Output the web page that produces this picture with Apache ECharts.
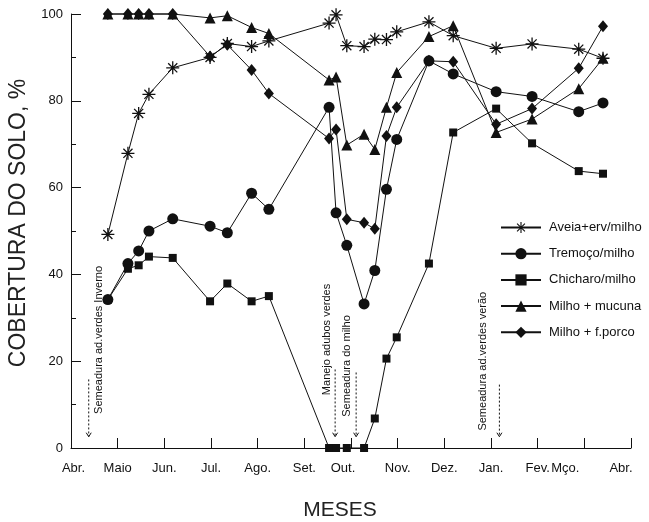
<!DOCTYPE html>
<html>
<head>
<meta charset="utf-8">
<script src="https://cdn.jsdelivr.net/npm/echarts@6/dist/echarts.min.js"></script>
<style>
  html, body { margin: 0; padding: 0; background: #fff; }
  #chart { width: 649px; height: 522px; }
</style>
</head>
<body>
<div id="chart"></div>
<script>
// Datas de avaliação, em meses contados a partir de abril (0 = Abr., 12 = Abr. seguinte)
const meses = [0.79, 1.22, 1.45, 1.67, 2.18, 2.98, 3.35, 3.87, 4.24, 5.53, 5.68,
               5.91, 6.28, 6.51, 6.76, 6.98, 7.67, 8.19, 9.11, 9.88, 10.88, 11.40];

const rotulosMeses = ['Abr.', 'Maio', 'Jun.', 'Jul.', 'Ago.', 'Set.', 'Out.',
                      'Nov.', 'Dez.', 'Jan.', 'Fev.', 'Mço.', 'Abr.'];

const rotulosY = [0, 20, 40, 60, 80, 100];

// Cobertura do solo (%) de cada sistema
const aveia = [49.2, 67.9, 77.1, 81.5, 87.6, 90.0, 93.2, 92.5, 93.8, 97.9, 99.8,
               92.7, 92.5, 94.2, 94.1, 95.9, 98.2, 95.0, 92.1, 93.1, 91.9, 89.8];
const tremoco = [34.2, 42.5, 45.4, 50.0, 52.8, 51.1, 49.6, 58.7, 55.0, 78.5, 54.2,
                 46.7, 33.2, 40.9, 59.6, 71.1, 89.2, 86.2, 82.1, 81.0, 77.5, 79.5];
const chicharo = [34.2, 41.3, 42.1, 44.1, 43.8, 33.8, 37.9, 33.8, 35.0, 0, 0,
                  0, 0, 6.8, 20.6, 25.5, 42.5, 72.7, 78.2, 70.2, 63.8, 63.2];
const mucuna = [100, 100, 100, 100, 100, 99.1, 99.6, 96.9, 95.5, 84.8, 85.5,
                69.8, 72.3, 68.8, 78.5, 86.5, 94.8, 97.3, 72.7, 75.8, 82.8, 89.8];
const porco = [100, 100, 100, 100, 100, 90.2, 92.9, 87.1, 81.7, 71.3, 73.4,
               52.7, 51.9, 50.5, 71.9, 78.5, 89.2, 89.0, 74.6, 78.2, 87.5, 97.2];

const nomes = ['Aveia+erv/milho', 'Tremoço/milho', 'Chicharo/milho', 'Milho + mucuna', 'Milho + f.porco'];

// Anotações de manejo (texto vertical + seta tracejada), em coordenadas do gráfico
const anotacoes = [
  { texto: 'Semeadura ad.verdes Inverno', textoEm: [0.59, 24.9], seta: 0.38, topo: 15.8 },
  { texto: 'Manejo adubos verdes',        textoEm: [5.48, 25.0], seta: 5.66, topo: 18.1 },
  { texto: 'Semeadura do milho',          textoEm: [5.92, 18.9], seta: 6.11, topo: 17.4 },
  { texto: 'Semeadura ad.verdes verão',   textoEm: [8.82, 20.0], seta: 9.18, topo: 14.6 }
];
const pontaSeta = 2.6;

const FONTE = '"Liberation Sans", Arial, Helvetica, sans-serif';

// asterisco de quatro hastes
const ASTERISCO = 'path://M9 0L11 0L11 20L9 20Z M0 9L20 9L20 11L0 11Z ' +
  'M2.3 3.7L3.7 2.3L17.7 16.3L16.3 17.7Z M16.3 2.3L17.7 3.7L3.7 17.7L2.3 16.3Z';

function serie(nome, valores, simbolo, tamanho) {
  return {
    name: nome,
    type: 'line',
    data: meses.map((m, i) => [m, valores[i]]),
    symbol: simbolo,
    symbolSize: tamanho,
    showAllSymbol: true,
    clip: false,
    lineStyle: { color: '#111', width: 1 },
    itemStyle: { color: '#111' },
    emphasis: { disabled: true },
    animation: false
  };
}

// ajuste fino da posição de alguns rótulos do eixo dos meses
const deslocamento = { 0: 'ini', 6: 'out', 11: 'mco', 12: 'abr' };
const richBase = { fontSize: 13, fontFamily: FONTE, color: '#111' };

const chart = echarts.init(document.getElementById('chart'));
chart.setOption({
  animation: false,
  backgroundColor: '#fff',
  grid: { left: 71, right: 18, top: 14, bottom: 74, containLabel: false },
  xAxis: {
    type: 'value',
    min: 0, max: 12, interval: 1,
    axisLine: { show: true, lineStyle: { color: '#111', width: 1 } },
    axisTick: { show: true, inside: true, length: 10, lineStyle: { color: '#111' } },
    splitLine: { show: false },
    axisLabel: {
      margin: 14,
      fontSize: 13, fontFamily: FONTE, color: '#111',
      formatter: function (v) {
        const i = Math.round(v);
        const s = rotulosMeses[i];
        return deslocamento[i] ? '{' + deslocamento[i] + '|' + s + '}' : s;
      },
      rich: {
        ini: Object.assign({ padding: [0, 0, 0, 5] }, richBase),
        out: Object.assign({ padding: [0, 16, 0, 0] }, richBase),
        mco: Object.assign({ padding: [0, 38, 0, 0] }, richBase),
        abr: Object.assign({ padding: [0, 20, 0, 0] }, richBase)
      }
    }
  },
  yAxis: {
    type: 'value',
    min: 0, max: 100, interval: 20,
    axisLine: { show: true, lineStyle: { color: '#111', width: 1 } },
    axisTick: { show: true, inside: true, length: 10, lineStyle: { color: '#111' } },
    minorTick: { show: true, splitNumber: 2, length: 5, lineStyle: { color: '#111' } },
    splitLine: { show: false },
    minorSplitLine: { show: false },
    axisLabel: {
      margin: 8, fontSize: 13, fontFamily: FONTE, color: '#111',
      formatter: v => (rotulosY.indexOf(v) >= 0 ? String(v) : '')
    }
  },
  legend: {
    orient: 'vertical',
    left: 495, top: 216,
    itemWidth: 40, itemHeight: 14, itemGap: 13.2,
    selectedMode: false,
    textStyle: { fontSize: 13, fontFamily: FONTE, color: '#111', padding: [0, 0, 0, 3] },
    data: nomes
  },
  series: [
    serie(nomes[0], aveia, ASTERISCO, 13),
    serie(nomes[1], tremoco, 'circle', 11),
    serie(nomes[2], chicharo, 'rect', 8),
    serie(nomes[3], mucuna, 'triangle', 11),
    serie(nomes[4], porco, 'diamond', [10, 12])
  ]
});

// títulos dos eixos e anotações
const elementos = [
  {
    type: 'text', x: 19, y: 223, rotation: Math.PI / 2,
    style: { text: 'COBERTURA DO SOLO, %', fontSize: 23, fontFamily: FONTE, fill: '#222',
             align: 'center', verticalAlign: 'middle' }
  },
  {
    type: 'text', x: 340, y: 510,
    style: { text: 'MESES', fontSize: 21, fontFamily: FONTE, fill: '#222',
             align: 'center', verticalAlign: 'middle' }
  }
];

anotacoes.forEach(a => {
  const t = chart.convertToPixel({ gridIndex: 0 }, a.textoEm);
  const p1 = chart.convertToPixel({ gridIndex: 0 }, [a.seta, a.topo]);
  const p2 = chart.convertToPixel({ gridIndex: 0 }, [a.seta, pontaSeta]);
  elementos.push({
    type: 'text', x: t[0], y: t[1], rotation: Math.PI / 2,
    style: { text: a.texto, fontSize: 11, fontFamily: FONTE, fill: '#111',
             align: 'center', verticalAlign: 'middle' }
  });
  elementos.push({
    type: 'line',
    shape: { x1: p1[0], y1: p1[1], x2: p2[0], y2: p2[1] },
    style: { stroke: '#111', lineWidth: 1, lineDash: [2, 2] }
  });
  elementos.push({
    type: 'polyline',
    shape: { points: [[p2[0] - 2.5, p2[1] - 4], [p2[0], p2[1]], [p2[0] + 2.5, p2[1] - 4]] },
    style: { stroke: '#111', lineWidth: 1, fill: null }
  });
});

chart.setOption({ graphic: elementos });
</script>
</body>
</html>
